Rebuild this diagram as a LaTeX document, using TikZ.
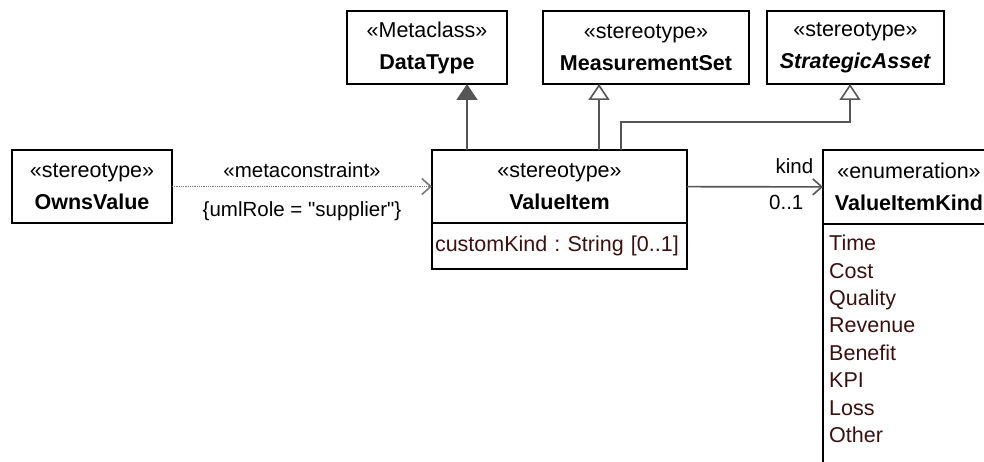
\documentclass[tikz,border=0pt]{standalone}
\usepackage{fontspec}
\setmainfont{Liberation Sans}[Ligatures=TeXOff]
\usepackage{tikz}
\usetikzlibrary{arrows.meta,positioning}

\definecolor{lnk}{HTML}{555555}
\definecolor{lit}{HTML}{3A1010}
\frenchspacing

\begin{document}
\begin{tikzpicture}[
  x=1pt, y=-1pt,
  font=\fontsize{21.5}{32}\selectfont,
  cls/.style={draw, line width=1.6pt, align=center, inner sep=0pt, outer sep=0pt, minimum height=73pt},
  comp/.style={draw, line width=1.6pt, inner sep=5pt, outer sep=0pt, text=lit},
  lits/.style={align=left, inner sep=0pt, text=lit, font=\fontsize{21.5}{27.4}\selectfont},
  lbl/.style={font=\fontsize{20.5}{24}\selectfont, inner sep=0pt},
  gen/.style={-{Triangle[fill=white, length=16pt, width=21pt]}, draw=lnk, line width=1.6pt},
  genfill/.style={-{Triangle[fill=lnk, length=16pt, width=21pt]}, draw=lnk, line width=1.6pt},
  assoc/.style={-{Straight Barb[length=9pt, width=16pt]}, draw=lnk, line width=1.6pt},
  meta/.style={assoc, draw=lnk!80, dash pattern=on 1pt off 0.8pt}
]
  \useasboundingbox (0,0) rectangle (984,462);

  % top row
  \node[cls, minimum width=160pt] (datatype) at (427,47.5) {«Metaclass»\\\textbf{DataType}};
  \node[cls, minimum width=206pt] (measure) at (646,47.5) {«stereotype»\\\textbf{MeasurementSet}};
  \node[cls, minimum width=177pt] (strategic) at (855.5,47.5) {«stereotype»\\\textbf{\textit{StrategicAsset}}};

  % middle row
  \node[cls, minimum width=160pt] (owns) at (92,186.5) {«stereotype»\\\textbf{OwnsValue}};
  \node[cls, minimum width=255pt] (valueitem) at (559.5,186.5) {«stereotype»\\\textbf{ValueItem}};
  \node[comp, below=0pt of valueitem, minimum width=255pt, minimum height=46pt, inner xsep=3pt, text width=249pt, align=left] (valueitemattr) {customKind : String [0..1]};

  \node[cls, minimum width=172pt, minimum height=74pt] (kindhdr) at (909,187) {«enumeration»\\\textbf{ValueItemKind}};
  \node[comp, below=0pt of kindhdr, minimum width=172pt, minimum height=280pt] (kindlits) {};
  \node[lits, anchor=north west] (kindlist) at ([xshift=6pt, yshift=-11pt]kindlits.north west) {Time\\Cost\\Quality\\Revenue\\Benefit\\KPI\\Loss\\Other};

  \draw[genfill] ([xshift=35pt]valueitem.north west) -- ([xshift=35pt]valueitem.north west |- datatype.south);
  \draw[gen] ([xshift=167pt]valueitem.north west) -- ([xshift=167pt]valueitem.north west |- measure.south);
  \draw[gen] ([xshift=189pt]valueitem.north west) -- ++(0,-28) -| ([xshift=-5.5pt]strategic.south);
  \draw[meta] (owns) -- node[lbl, above=8pt] (metalbl) {«metaconstraint»} node[lbl, below=14pt] (rolelbl) {\{umlRole = "supplier"\}} (valueitem);
  \draw[assoc] (valueitem) -- node[lbl, pos=0.79, above=12pt] (rolename) {kind} node[lbl, pos=0.73, below=8pt] (mult) {0..1} (kindhdr);
\end{tikzpicture}
\end{document}
